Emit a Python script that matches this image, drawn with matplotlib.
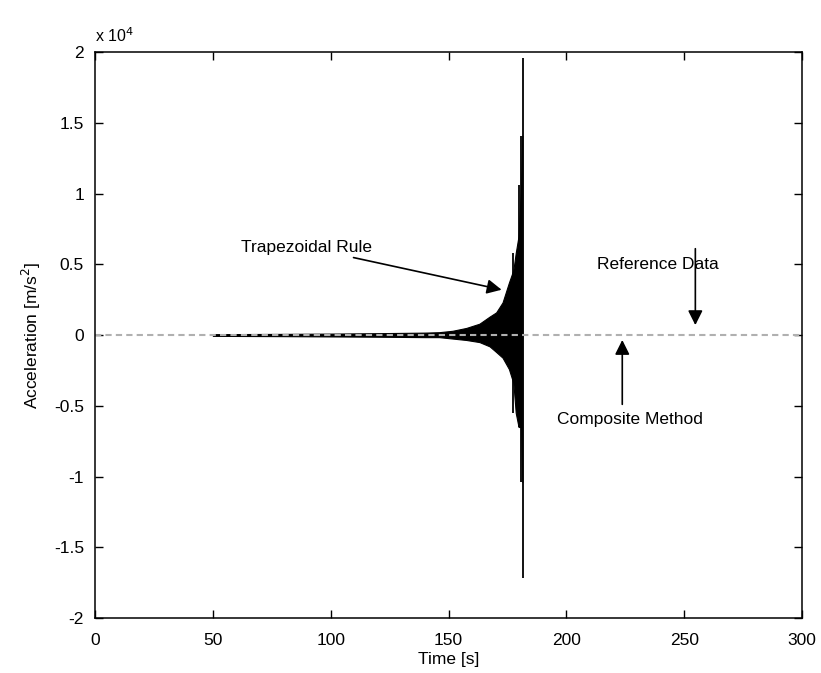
import numpy as np
import matplotlib
matplotlib.use('Agg')
import matplotlib.pyplot as plt

plt.rcParams['font.family'] = ['Liberation Sans', 'DejaVu Sans']

# envelope of the trapezoidal-rule trace
env_t  = [50, 80, 100, 120, 140, 146, 151.7, 157.5, 163.1, 167.4, 170.2, 172.9, 175.6, 177.5, 178.5, 179.7, 180.8, 181.3]
env_hi = [60, 80, 100, 130, 170, 200, 300, 500, 800, 1300, 1600, 2300, 3700, 4600, 5800, 7000, 10600, 14100]
env_lo = [-60, -80, -100, -120, -150, -150, -250, -350, -500, -800, -1200, -1600, -2400, -3400, -5500, -6500, -6500, -10400]

# individual spikes at the end of the trace
spike_t  = [177.5, 179.7, 180.8, 181.6]
spike_hi = [5800, 10600, 14100, 19600]
spike_lo = [-5500, -6500, -10400, -17200]

# reference / composite data, flat at zero
ref_t = [0, 300]
ref_a = [0, 0]

xticks = [0, 50, 100, 150, 200, 250, 300]
yticks = [-2e4, -1.5e4, -1e4, -0.5e4, 0, 0.5e4, 1e4, 1.5e4, 2e4]
ylabels = ['-2', '-1.5', '-1', '-0.5', '0', '0.5', '1', '1.5', '2']

fig = plt.figure(figsize=(8.21, 6.73), dpi=100)
ax = fig.add_axes([0.1157, 0.0817, 0.977 - 0.1157, 0.9227 - 0.0817])

ax.fill_between(env_t, env_lo, env_hi, color='k', lw=0.8)
ax.vlines(spike_t, spike_lo, spike_hi, color='k', lw=1.3)
ax.plot(ref_t, ref_a, color='#b0b0b0', lw=1.5, ls=(0, (3, 2)))

ax.set_xlim(0, 300)
ax.set_ylim(-2e4, 2e4)
ax.set_xticks(xticks)
ax.set_yticks(yticks)
ax.set_yticklabels(ylabels)
ax.tick_params(direction='in', length=6, width=1, top=True, right=True,
               labelsize=12.5)
ax.tick_params(axis='x', pad=11)
ax.tick_params(axis='y', pad=8)
for s in ax.spines.values():
    s.set_linewidth(1.1)

ax.text(0.0, 1.012, 'x 10$^4$', transform=ax.transAxes, fontsize=11.5, ha='left', va='bottom')
ax.set_xlabel('Time [s]', fontsize=12.5, labelpad=3)
ax.set_ylabel('Acceleration [m/s$^2$]', fontsize=12.5, labelpad=8)

ap = dict(arrowstyle='-|>', color='k', lw=1.2, mutation_scale=22, shrinkA=0, shrinkB=0)
ax.annotate('Trapezoidal Rule', xy=(172.5, 3200), xytext=(117.4, 6200),
            ha='right', va='center', fontsize=12.5, arrowprops=ap)
ax.annotate('', xy=(254.7, 700), xytext=(254.7, 6100), arrowprops=ap)
ax.text(238.6, 4950, 'Reference Data', ha='center', va='center', fontsize=12.5)
ax.annotate('', xy=(223.7, -350), xytext=(223.7, -4900), arrowprops=ap)
ax.text(227, -6000, 'Composite Method', ha='center', va='center', fontsize=12.5)

fig.savefig('out.png', dpi=100)
